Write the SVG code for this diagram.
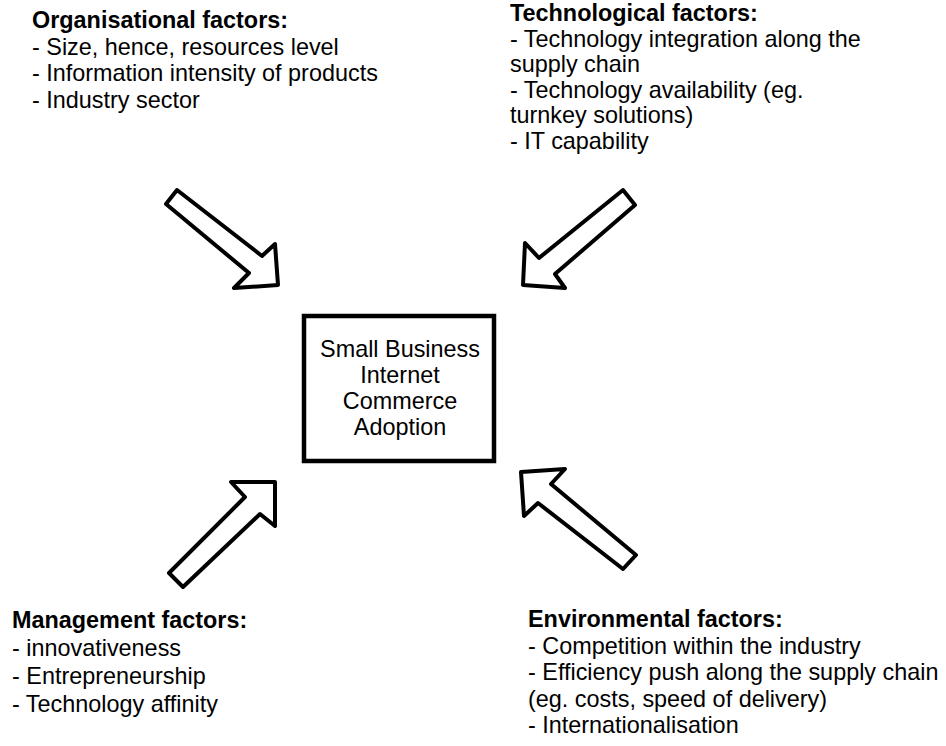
<svg xmlns="http://www.w3.org/2000/svg" width="946" height="746" viewBox="0 0 946 746">
<style>
text{font-family:"Liberation Sans",Arial,sans-serif;font-size:23.4px;fill:#000}
.b{font-weight:bold}
.c{text-anchor:middle}
.arrow{fill:#fff;stroke:#000;stroke-width:4;stroke-linejoin:round}
.box{fill:#fff;stroke:#000;stroke-width:4.5}
</style>
<rect width="946" height="746" fill="#fff"/>
<g id="connectors">
<polygon class="arrow" points="177,190 166,204 249,273 234,288 278,285 275,244 262,256"/>
<polygon class="arrow" points="623,190 635,205 555,274 565,288 523,285 525,243 539,258"/>
<polygon class="arrow" points="275,482 231,482 245,497 169,573 183,587 260,514 275,526"/>
<polygon class="arrow" points="521,472 565,469 551,484 636,555 623,569 538,503 524,516"/>
</g>
<g id="center">
<rect class="box" x="304" y="316" width="190" height="145"/>
<text class="c" x="400" y="357">Small Business</text>
<text class="c" x="400" y="383">Internet</text>
<text class="c" x="400" y="409">Commerce</text>
<text class="c" x="400" y="435">Adoption</text>
</g>
<g id="organisational">
<text class="b" x="32" y="28">Organisational factors:</text>
<text x="32" y="54.5">- Size, hence, resources level</text>
<text x="32" y="81">- Information intensity of products</text>
<text x="32" y="107.5">- Industry sector</text>
</g>
<g id="technological">
<text class="b" x="510" y="21">Technological factors:</text>
<text x="510" y="46.5">- Technology integration along the</text>
<text x="510" y="72">supply chain</text>
<text x="510" y="97.5">- Technology availability (eg.</text>
<text x="510" y="123">turnkey solutions)</text>
<text x="510" y="148.5">- IT capability</text>
</g>
<g id="management">
<text class="b" x="12" y="628">Management factors:</text>
<text x="12" y="656">- innovativeness</text>
<text x="12" y="684">- Entrepreneurship</text>
<text x="12" y="712">- Technology affinity</text>
</g>
<g id="environmental">
<text class="b" x="528" y="627">Environmental factors:</text>
<text x="528" y="653.5">- Competition within the industry</text>
<text x="528" y="680">- Efficiency push along the supply chain</text>
<text x="528" y="706.5">(eg. costs, speed of delivery)</text>
<text x="528" y="733">- Internationalisation</text>
</g>
</svg>
